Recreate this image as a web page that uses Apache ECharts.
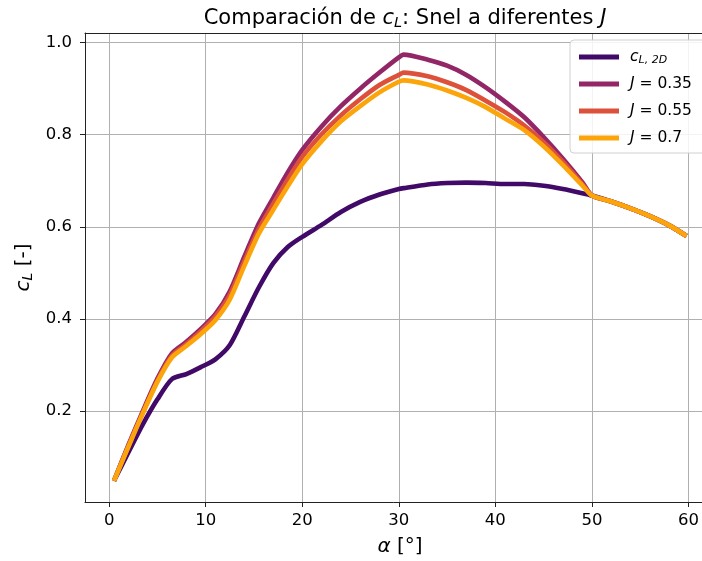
<!DOCTYPE html>
<html>
<head>
<meta charset="utf-8">
<script src="https://cdn.jsdelivr.net/npm/echarts@6/dist/echarts.min.js"></script>
<style>
html,body{margin:0;padding:0;background:#fff;}
#chart{width:702px;height:561px;}
</style>
</head>
<body>
<div id="chart"></div>
<script>
// angle of attack [deg]
const alpha = [0.5, 2, 3.5, 5, 6.5, 8, 9.5, 11, 12.5, 14, 15.5, 17, 18.5, 20, 22, 24, 26, 28, 30, 30.5, 33, 35, 37, 39, 41, 43, 45, 47, 49, 50, 52, 54, 56, 58, 59.8];
const cl2D = [0.048, 0.110, 0.171, 0.225, 0.269, 0.280, 0.295, 0.312, 0.343, 0.405, 0.468, 0.521, 0.556, 0.578, 0.604, 0.632, 0.654, 0.670, 0.682, 0.684, 0.692, 0.695, 0.696, 0.695, 0.693, 0.693, 0.689, 0.682, 0.673, 0.668, 0.655, 0.640, 0.623, 0.603, 0.580];
const clJ035 = [0.048, 0.126, 0.200, 0.270, 0.325, 0.350, 0.378, 0.410, 0.460, 0.535, 0.607, 0.663, 0.718, 0.767, 0.818, 0.862, 0.900, 0.935, 0.968, 0.974, 0.963, 0.950, 0.930, 0.903, 0.872, 0.838, 0.795, 0.748, 0.697, 0.668, 0.655, 0.640, 0.623, 0.603, 0.580];
const clJ055 = [0.048, 0.124, 0.197, 0.266, 0.320, 0.345, 0.373, 0.405, 0.452, 0.525, 0.595, 0.650, 0.703, 0.752, 0.801, 0.842, 0.877, 0.908, 0.930, 0.935, 0.927, 0.914, 0.897, 0.874, 0.849, 0.820, 0.784, 0.741, 0.693, 0.668, 0.655, 0.640, 0.623, 0.603, 0.580];
const clJ070 = [0.048, 0.122, 0.195, 0.263, 0.316, 0.341, 0.367, 0.397, 0.442, 0.515, 0.585, 0.637, 0.688, 0.736, 0.786, 0.829, 0.862, 0.892, 0.915, 0.918, 0.909, 0.896, 0.880, 0.860, 0.835, 0.810, 0.775, 0.734, 0.690, 0.668, 0.655, 0.640, 0.623, 0.603, 0.580];
const seriesNames = ['cL2D', 'J = 0.35', 'J = 0.55', 'J = 0.7'];
const legendLabels = ['{i|c}{s|L, 2D}', '{i|J} = 0.35', '{i|J} = 0.55', '{i|J} = 0.7'];
const xTicks = [0, 10, 20, 30, 40, 50, 60];
const yTicks = [0.2, 0.4, 0.6, 0.8, 1.0];
const colors = ['#420a68', '#932667', '#dd513a', '#fca50a'];

const FONT = 'DejaVu Sans';
const allY = [cl2D, clJ035, clJ055, clJ070];
const series = allY.map((ys, k) => ({
  name: seriesNames[k],
  type: 'line',
  xAxisIndex: 0,
  data: alpha.map((a, i) => [a, ys[i]]),
  showSymbol: false,
  symbol: 'none',
  smooth: 0.25,
  lineStyle: {width: 4.6, color: colors[k], cap: 'butt', join: 'round'},
  itemStyle: {color: colors[k]},
  z: 2 + k
}));

const chart = echarts.init(document.getElementById('chart'), null, {renderer: 'canvas'});
chart.setOption({
  animation: false,
  backgroundColor: '#fff',
  textStyle: {fontFamily: FONT},
  title: {
    text: 'Comparación de {i|c}{s|L}: Snel a diferentes {i|J}',
    left: 400, top: 2, textAlign: 'center',
    textStyle: {
      fontFamily: FONT, fontSize: 21, fontWeight: 'normal', color: '#000',
      rich: {
        i: {fontFamily: FONT, fontSize: 21, fontStyle: 'italic', color: '#000'},
        s: {fontFamily: FONT, fontSize: 14.5, fontStyle: 'italic', color: '#000', padding: [9, 0, 0, 0]}
      }
    }
  },
  grid: {left: 85, top: 33, width: 630, height: 469, show: false, outerBoundsMode: 'none', containLabel: false},
  legend: {
    orient: 'vertical', left: 570, top: 40,
    padding: [8, 20, 6, 9],
    backgroundColor: 'rgba(255,255,255,0.85)', borderColor: '#d0d0d0', borderWidth: 1, borderRadius: 4,
    itemWidth: 40, itemHeight: 5, itemGap: 9, icon: 'rect',
    data: seriesNames,
    formatter: name => legendLabels[seriesNames.indexOf(name)],
    textStyle: {
      fontFamily: FONT, fontSize: 15.5, color: '#000', lineHeight: 18, padding: [0, 0, 0, 6],
      rich: {
        i: {fontFamily: FONT, fontSize: 15.5, fontStyle: 'italic', color: '#000'},
        s: {fontFamily: FONT, fontSize: 11, fontStyle: 'italic', color: '#000', padding: [6, 0, 0, 0]}
      }
    }
  },
  xAxis: [{
    type: 'value', min: -2.5, max: 62.75, position: 'bottom',
    name: '{i|α} [°]', nameLocation: 'middle', nameGap: 35,
    nameTextStyle: {fontFamily: FONT, fontSize: 20, color: '#000', rich: {i: {fontFamily: FONT, fontSize: 20, fontStyle: 'italic', color: '#000'}}},
    axisLine: {show: true, onZero: false, lineStyle: {color: '#222', width: 1}},
    axisTick: {show: true, length: 5, customValues: xTicks, lineStyle: {color: '#222'}},
    axisLabel: {customValues: xTicks, margin: 10, fontFamily: FONT, fontSize: 16.5, color: '#000'},
    splitLine: {show: true, lineStyle: {color: '#b0b0b0', width: 1}}
  }, {
    type: 'value', min: -2.5, max: 62.75, position: 'top',
    axisLine: {show: true, onZero: false, lineStyle: {color: '#222', width: 1}},
    axisTick: {show: false}, axisLabel: {show: false}, splitLine: {show: false}
  }],
  yAxis: {
    type: 'value', min: 0.002, max: 1.021,
    name: '{i|c}{s|L} [-]', nameLocation: 'middle', nameGap: 48, nameRotate: 90,
    nameTextStyle: {fontFamily: FONT, fontSize: 20, color: '#000', rich: {
      i: {fontFamily: FONT, fontSize: 20, fontStyle: 'italic', color: '#000'},
      s: {fontFamily: FONT, fontSize: 14, fontStyle: 'italic', color: '#000', padding: [9, 0, 0, 0]}
    }},
    axisLine: {show: true, onZero: false, lineStyle: {color: '#222', width: 1}},
    axisTick: {show: true, length: 5, customValues: yTicks, lineStyle: {color: '#222'}},
    axisLabel: {customValues: yTicks, margin: 13, fontFamily: FONT, fontSize: 16.5, color: '#000', formatter: v => v.toFixed(1)},
    splitLine: {show: true, lineStyle: {color: '#b0b0b0', width: 1}}
  },
  series: series
});
</script>
</body>
</html>
